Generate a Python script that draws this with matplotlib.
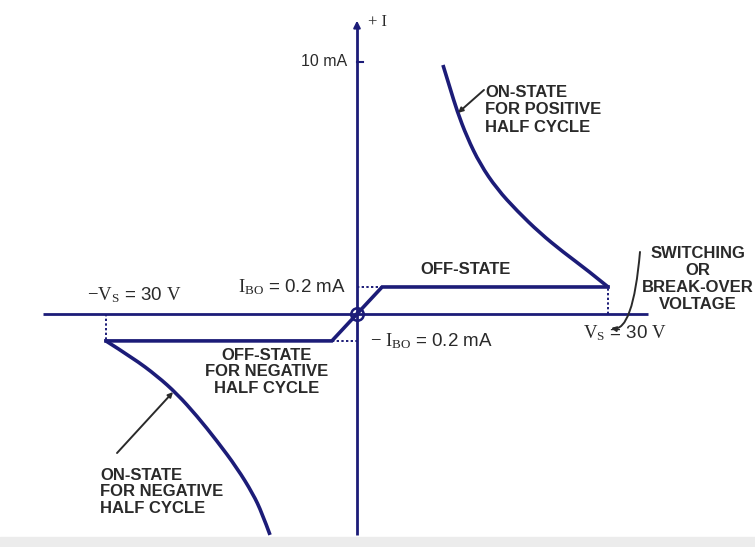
"""
DIAC V-I characteristic (schematic) — redrawn with matplotlib.
Voltage in volts, current in drawn units (schematic, not to scale).
"""

import matplotlib
matplotlib.use("Agg")
import matplotlib.pyplot as plt
from matplotlib.patches import Rectangle, PathPatch
from matplotlib.path import Path

plt.rcParams["font.family"] = ["Liberation Sans", "DejaVu Sans"]
plt.rcParams["mathtext.fontset"] = "custom"
plt.rcParams["mathtext.rm"] = "Liberation Serif"
plt.rcParams["mathtext.it"] = "Liberation Serif:italic"

NAVY = "#1c1c78"
INK = "#2a2a2a"
FS = 12

# ── data ──────────────────────────────────────────────────────────────────────
V_S = 30.0          # switching voltage
I_BO = 1.07         # drawn height of the break-over current level
V_KNEE = 3.0        # where the off-state ramp meets the flat part
I_TOP = 11.75       # top of the current axis (arrow tip)
I_BOTTOM = -8.77    # bottom of the current axis
V_LEFT = -37.5      # left end of the voltage axis
V_RIGHT = 34.8      # right end of the voltage axis
I_TICK = 10.0       # "10 mA" tick

on_pos_v = [10.27, 11.11, 11.95, 13.14, 14.70, 16.73, 19.12, 21.86, 24.61, 27.48, V_S]
on_pos_i = [9.88, 8.97, 8.06, 7.02, 5.95, 4.96, 4.09, 3.21, 2.46, 1.75, I_BO]

on_neg_v = [-V_S, -26.76, -23.89, -21.51, -19.12, -16.73, -14.34, -12.43, -11.35, -10.39]
on_neg_i = [-I_BO, -1.75, -2.46, -3.17, -4.05, -5.04, -6.11, -7.14, -7.90, -8.77]

off_pos_v = [0.0, V_KNEE, V_S]
off_pos_i = [0.0, I_BO, I_BO]
off_neg_v = [-V_S, -V_KNEE, 0.0]
off_neg_i = [-I_BO, -I_BO, 0.0]


def smooth_path(xs, ys):
    """Quadratic-segment path through the read points (rounds the polyline corners)."""
    pts = list(zip(xs, ys))
    verts, codes = [pts[0]], [Path.MOVETO]
    for k in range(1, len(pts) - 1):
        nxt = pts[k + 1] if k == len(pts) - 2 else (
            (pts[k][0] + pts[k + 1][0]) / 2, (pts[k][1] + pts[k + 1][1]) / 2)
        verts += [pts[k], nxt]
        codes += [Path.CURVE3, Path.CURVE3]
    return Path(verts, codes)


# ── figure ────────────────────────────────────────────────────────────────────
fig = plt.figure(figsize=(7.55, 5.47), dpi=100)
ax = fig.add_axes([0, 0, 1, 1])
ax.set_xlim(-42.65, 47.55)
ax.set_ylim(-9.25, 12.46)
ax.axis("off")

# light grey strip at the bottom edge of the scan
fig.patches.append(Rectangle((0, 0), 1, 10 / 547, transform=fig.transFigure,
                             color="#ececec", zorder=0))

# axes
ax.plot([V_LEFT, V_RIGHT], [0, 0], color=NAVY, lw=2.0, solid_capstyle="butt")
ax.plot([0, 0], [I_BOTTOM, I_TOP - 0.3], color=NAVY, lw=2.0, solid_capstyle="butt")
ax.annotate("", xy=(0, I_TOP), xytext=(0, I_TOP - 0.5),
            arrowprops=dict(arrowstyle="-|>", color=NAVY, lw=1.5, mutation_scale=10))
ax.plot([0, 0.75], [I_TICK, I_TICK], color=NAVY, lw=1.5)

# curves
ax.plot(off_pos_v, off_pos_i, color=NAVY, lw=2.6, solid_joinstyle="miter")
ax.plot(off_neg_v, off_neg_i, color=NAVY, lw=2.6, solid_joinstyle="miter")
for vs, is_ in [(on_pos_v, on_pos_i), (on_neg_v, on_neg_i)]:
    ax.add_patch(PathPatch(smooth_path(vs, is_), fc="none", ec=NAVY, lw=2.6))
ax.plot([0], [0], marker="o", ms=9, mfc="none", mec=NAVY, mew=1.8)

# dotted guides
dot = dict(color=NAVY, lw=1.4, ls=(0, (1.2, 1.2)))
ax.plot([0, V_KNEE], [I_BO, I_BO], **dot)
ax.plot([-V_KNEE, 0], [-I_BO, -I_BO], **dot)
ax.plot([V_S, V_S], [0, I_BO], **dot)
ax.plot([-V_S, -V_S], [0, -I_BO], **dot)

# ── labels ────────────────────────────────────────────────────────────────────
ax.text(1.3, 11.6, "+ I", fontsize=12, family="Liberation Serif",
        color=INK, ha="left", va="center")
ax.text(-1.2, I_TICK, "10 mA", fontsize=11.5, color=INK, ha="right", va="center")

lab = dict(fontsize=FS, color=INK, fontweight="bold")
ax.text(15.3, 8.10, "ON-STATE\nFOR POSITIVE\nHALF CYCLE", ha="left", va="center", **lab)
ax.text(13.0, 1.75, "OFF-STATE", ha="center", va="center", **lab)
ax.text(40.7, 1.39, "SWITCHING\nOR\nBREAK-OVER\nVOLTAGE", ha="center", va="center",
        multialignment="center", linespacing=1.15, **lab)
ax.text(-10.75, -2.30, "OFF-STATE\nFOR NEGATIVE\nHALF CYCLE", ha="center", va="center",
        multialignment="center", linespacing=1.15, **lab)
ax.text(-30.7, -7.06, "ON-STATE\nFOR NEGATIVE\nHALF CYCLE", ha="left", va="center",
        linespacing=1.15, **lab)

val = dict(fontsize=13.5, color=INK, va="center")
ax.text(-1.3, I_BO, r"$\mathrm{I_{BO}}$ = 0.2 mA", ha="right", **val)
ax.text(1.55, -I_BO, r"$-\ \mathrm{I_{BO}}$ = 0.2 mA", ha="left", **val)
ax.text(-32.3, 0.75, r"$-\mathrm{V_S}$ = 30 $\mathrm{V}$", ha="left", **val)
ax.text(27.0, -0.75, r"$\mathrm{V_S}$ = 30 $\mathrm{V}$", ha="left", **val)

# leaders
lead = dict(arrowstyle="-|>", color=INK, lw=1.4, mutation_scale=7, shrinkA=0, shrinkB=0)
ax.annotate("", xy=(12.07, 7.98), xytext=(15.17, 8.89),
            arrowprops=dict(connectionstyle="arc3,rad=0.0", **lead))
ax.annotate("", xy=(-21.98, -3.10), xytext=(-28.67, -5.52),
            arrowprops=dict(connectionstyle="arc3,rad=0.0", **lead))
ax.annotate("", xy=(30.35, -0.56), xytext=(33.81, 2.46),
            arrowprops=dict(connectionstyle="angle3,angleA=-95,angleB=170", **lead))

fig.savefig("out.png", dpi=100)
